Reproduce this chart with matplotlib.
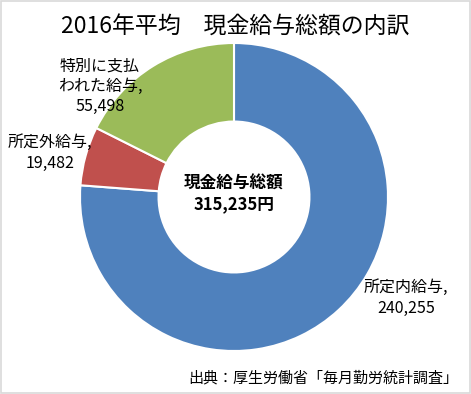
import matplotlib.pyplot as plt
from matplotlib.patches import Rectangle

plt.rcParams['font.family'] = ['Noto Sans CJK JP', 'DejaVu Sans']

# data
categories = ["所定内給与", "所定外給与", "特別に支払\nわれた給与"]
values = [240255, 19482, 55498]
colors = ["#4F81BD", "#C0504D", "#9BBB59"]
total = sum(values)

W, H = 471, 394
fig = plt.figure(figsize=(W / 100, H / 100), dpi=100)
ax = fig.add_axes([0, 0, 1, 1])

cx, cy, r = 234, H - 197, 154
ax.pie(values, colors=colors, startangle=90, counterclock=False,
       center=(cx, cy), radius=r, frame=True,
       wedgeprops=dict(width=r * 0.51, edgecolor="white", linewidth=1.5))
ax.set_xlim(0, W)
ax.set_ylim(0, H)
ax.set_aspect("equal")
ax.axis("off")

# slice labels (placed like the original)
label_pos = [(406, H - 298), (50, H - 153), (100, H - 86)]
for name, v, (x, y) in zip(categories, values, label_pos):
    ax.text(x, y, f"{name},\n{v:,}", ha="center", va="center",
            fontsize=11.5, linespacing=1.25)

ax.text(cx, cy + 3, f"現金給与総額\n{total:,}円", ha="center", va="center",
        fontsize=12, fontweight="bold", linespacing=1.2)

ax.text(W / 2, H - 27, "2016年平均　現金給与総額の内訳", ha="center",
        va="center", fontsize=16.5)
ax.text(458, H - 378, "出典：厚生労働省「毎月勤労統計調査」", ha="right",
        va="center", fontsize=10.8)

fig.patches.append(Rectangle((0.002, 0.003), 0.995, 0.994, transform=fig.transFigure,
                             fill=False, edgecolor="#d9d9d9", linewidth=1.2))

fig.savefig("out.png", dpi=100, facecolor="white")
